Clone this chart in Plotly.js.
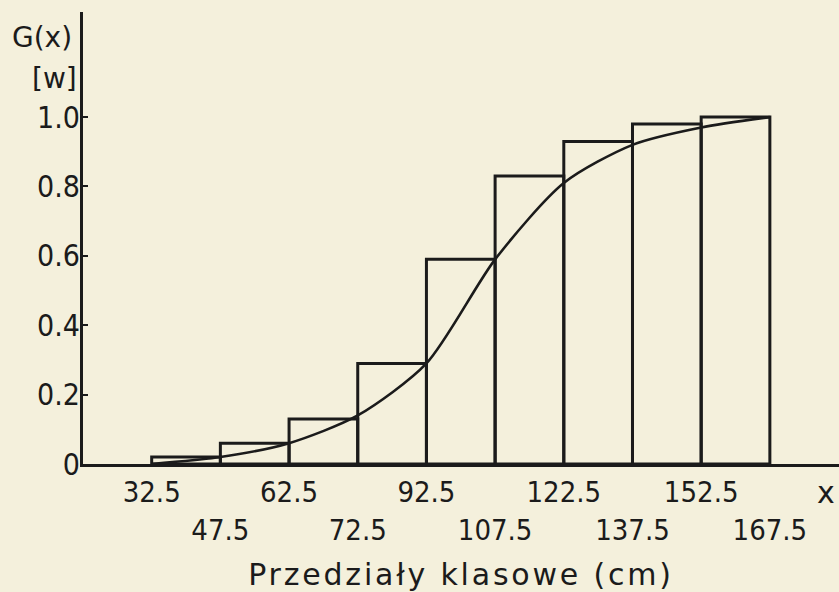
<!DOCTYPE html>
<html>
<head>
<meta charset="utf-8">
<script src="https://cdn.plot.ly/plotly-3.0.1.min.js"></script>
<style>
  html, body { margin: 0; padding: 0; background: #f4f0dc; }
  #chart { width: 839px; height: 592px; }
  .g-xtitle text { letter-spacing: 2.8px; }
</style>
</head>
<body>
<div id="chart"></div>
<script>
// Class intervals (cm)
const classLower = [32.5, 47.5, 62.5, 77.5, 92.5, 107.5, 122.5, 137.5, 152.5];
const classUpper = [47.5, 62.5, 77.5, 92.5, 107.5, 122.5, 137.5, 152.5, 167.5];
// Cumulative relative frequency G(x) per class (step heights)
const cumFreq = [0.02, 0.06, 0.13, 0.29, 0.59, 0.83, 0.93, 0.98, 1.0];
// Smoothed cumulative curve, read at class boundaries
const curveX = [32.5, 47.5, 62.5, 77.5, 92.5, 107.5, 122.5, 137.5, 152.5, 167.5];
const curveY = [0, 0.02, 0.06, 0.14, 0.29, 0.59, 0.81, 0.92, 0.97, 1.0];
// Tick labels (two staggered rows, as printed)
const upperRowVals = [32.5, 62.5, 92.5, 122.5, 152.5];
const upperRowText = ["32.5", "62.5", "92.5", "122.5", "152.5"];
const lowerRowVals = [47.5, 77.5, 107.5, 137.5, 167.5];
const lowerRowText = ["47.5", "72.5", "107.5", "137.5", "167.5"];
const yTickVals = [0, 0.2, 0.4, 0.6, 0.8, 1.0];
const yTickText = ["0", "0.2", "0.4", "0.6", "0.8", "1.0"];

const ink = '#1b1b1b';
const paper = '#f4f0dc';
const numFont = 'DejaVu Sans Condensed, Liberation Sans Narrow, DejaVu Sans, sans-serif';
const txtFont = 'DejaVu Sans, sans-serif';

const centers = classLower.map((l, i) => (l + classUpper[i]) / 2);
const widths = classLower.map((l, i) => classUpper[i] - l);

const xRange = [17.5, 182.6];

const traces = [
  {
    type: 'bar',
    x: centers,
    y: cumFreq,
    width: widths,
    marker: { color: 'rgba(0,0,0,0)', line: { color: ink, width: 3 } },
    hoverinfo: 'skip',
    showlegend: false
  },
  {
    type: 'scatter',
    mode: 'lines',
    x: curveX,
    y: curveY,
    line: { color: ink, width: 2.6, shape: 'spline', smoothing: 0.75 },
    hoverinfo: 'skip',
    showlegend: false
  },
  {
    type: 'scatter',
    mode: 'lines',
    x: [],
    y: [],
    xaxis: 'x2',
    hoverinfo: 'skip',
    showlegend: false
  }
];

const layout = {
  width: 839,
  height: 592,
  margin: { l: 83, r: 0, t: 12, b: 128 },
  paper_bgcolor: paper,
  plot_bgcolor: paper,
  bargap: 0,
  font: { family: numFont, color: ink, size: 29 },
  xaxis: {
    range: xRange,
    showgrid: false,
    zeroline: false,
    showline: true,
    linecolor: ink,
    linewidth: 3,
    ticks: '',
    tickvals: upperRowVals,
    ticktext: upperRowText,
    tickfont: { family: numFont, size: 29, color: ink },
    title: {
      text: 'Przedziały klasowe (cm)',
      font: { family: txtFont, size: 30, color: ink },
      standoff: 57
    }
  },
  xaxis2: {
    range: xRange,
    overlaying: 'x',
    anchor: 'y',
    side: 'bottom',
    showgrid: false,
    zeroline: false,
    showline: false,
    ticks: '',
    tickvals: lowerRowVals,
    ticktext: lowerRowText,
    ticklabelstandoff: 46,
    tickfont: { family: numFont, size: 29, color: ink }
  },
  yaxis: {
    range: [0, 1.303],
    showgrid: false,
    zeroline: false,
    showline: true,
    linecolor: ink,
    linewidth: 3,
    ticks: 'inside',
    ticklen: 5,
    tickwidth: 2,
    tickcolor: ink,
    ticklabelstandoff: -6,
    tickvals: yTickVals,
    ticktext: yTickText,
    tickfont: { family: numFont, size: 30, color: ink }
  },
  annotations: [
    { text: 'G(x)', xref: 'paper', yref: 'paper', x: (42 - 83) / 756, y: (464 - 37) / 452,
      xanchor: 'center', yanchor: 'middle', showarrow: false,
      font: { family: txtFont, size: 28, color: ink } },
    { text: '[w]', xref: 'paper', yref: 'paper', x: (54 - 83) / 756, y: (464 - 78) / 452,
      xanchor: 'center', yanchor: 'middle', showarrow: false,
      font: { family: txtFont, size: 28, color: ink } },
    { text: 'x', xref: 'paper', yref: 'paper', x: (826 - 83) / 756, y: (464 - 493) / 452,
      xanchor: 'center', yanchor: 'middle', showarrow: false,
      font: { family: txtFont, size: 30, color: ink } }
  ]
};

Plotly.newPlot('chart', traces, layout, { staticPlot: true, displayModeBar: false });
</script>
</body>
</html>
